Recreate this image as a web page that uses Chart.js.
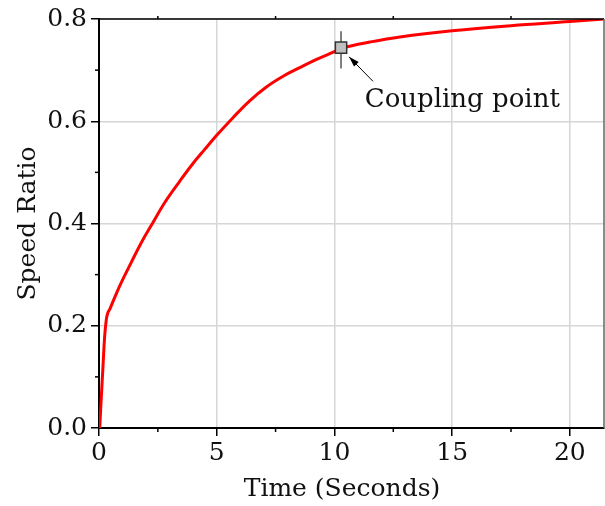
<!DOCTYPE html>
<html>
<head>
<meta charset="utf-8">
<script src="https://cdn.jsdelivr.net/npm/chart.js@4.4.1/dist/chart.umd.min.js"></script>
<style>
  html, body { margin: 0; padding: 0; background: #fff; }
  #chart-canvas { display: block; }
</style>
</head>
<body>
<canvas id="chart-canvas" width="605" height="506"></canvas>
<script>
// speed ratio curve
var timeValues = [0.03, 0.10, 0.17, 0.24, 0.31, 0.38, 0.455, 0.51, 0.70, 0.94, 1.36, 1.79,
  2.28, 2.78, 3.42, 3.95, 4.49, 4.99, 5.69, 6.40, 7.11, 7.82, 8.53, 9.24, 10.09, 10.28,
  11.5, 12.78, 15, 17.5, 20, 21.45];
var speedValues = [0, 0.062, 0.121, 0.179, 0.212, 0.226, 0.232, 0.238, 0.259, 0.284, 0.323, 0.362,
  0.401, 0.440, 0.482, 0.515, 0.545, 0.572, 0.607, 0.640, 0.667, 0.688, 0.705, 0.721, 0.738, 0.743,
  0.755, 0.765, 0.777, 0.787, 0.795, 0.800];

// coupling point and its vertical bar
var couplingTime = [10.28];
var couplingSpeed = [0.744];
var couplingBar = [0.703, 0.776];

var xTicks = [0, 5, 10, 15, 20];
var yTicks = [0, 0.2, 0.4, 0.6, 0.8];
var xLabel = "Time (Seconds)";
var yLabel = "Speed Ratio";
var noteText = "Coupling point";

var FONT = "DejaVu Serif";
Chart.defaults.font.family = FONT;
Chart.defaults.color = "#111";

// minor ticks, top/right frame, arrow note and x title
var extras = {
  id: "extras",
  afterDraw: function (chart) {
    var ctx = chart.ctx;
    var x = chart.scales.x, y = chart.scales.y;
    var area = chart.chartArea;
    ctx.save();
    ctx.strokeStyle = "#000";
    ctx.lineWidth = 1.5;
    // top and right frame
    ctx.beginPath();
    ctx.moveTo(area.left, area.top);
    ctx.lineTo(area.right, area.top);
    ctx.stroke();
    ctx.strokeStyle = "#666";
    ctx.beginPath();
    ctx.moveTo(area.right, area.top);
    ctx.lineTo(area.right, area.bottom);
    ctx.stroke();
    ctx.strokeStyle = "#000";
    // minor ticks halfway between the major ones
    for (var i = 0; i < xTicks.length; i++) {
      var px = x.getPixelForValue(xTicks[i] + 2.5);
      if (px > area.right) continue;
      ctx.beginPath();
      ctx.moveTo(px, area.bottom);
      ctx.lineTo(px, area.bottom + 4);
      ctx.moveTo(px, area.top);
      ctx.lineTo(px, area.top - 3);
      ctx.stroke();
    }
    for (var j = 0; j < yTicks.length - 1; j++) {
      var py = y.getPixelForValue(yTicks[j] + 0.1);
      ctx.beginPath();
      ctx.moveTo(area.left, py);
      ctx.lineTo(area.left - 4, py);
      ctx.stroke();
    }
    // arrow to the coupling point
    var tipX = x.getPixelForValue(10.62), tipY = y.getPixelForValue(0.726);
    var tailX = x.getPixelForValue(11.64), tailY = y.getPixelForValue(0.678);
    var ang = Math.atan2(tipY - tailY, tipX - tailX);
    ctx.lineWidth = 1;
    ctx.strokeStyle = "#000";
    ctx.beginPath();
    ctx.moveTo(tailX, tailY);
    ctx.lineTo(tipX, tipY);
    ctx.stroke();
    ctx.fillStyle = "#000";
    ctx.beginPath();
    ctx.moveTo(tipX, tipY);
    ctx.lineTo(tipX - 11 * Math.cos(ang - 0.3), tipY - 11 * Math.sin(ang - 0.3));
    ctx.lineTo(tipX - 11 * Math.cos(ang + 0.3), tipY - 11 * Math.sin(ang + 0.3));
    ctx.closePath();
    ctx.fill();
    // note text
    ctx.font = "26px '" + FONT + "'";
    ctx.fillStyle = "#111";
    ctx.textAlign = "left";
    ctx.textBaseline = "alphabetic";
    ctx.fillText(noteText, x.getPixelForValue(11.29), y.getPixelForValue(0.628));
    // x title
    ctx.font = "25px '" + FONT + "'";
    ctx.textAlign = "center";
    ctx.textBaseline = "middle";
    ctx.fillText(xLabel, 342, 489);
    ctx.restore();
  }
};

var curve = timeValues.map(function (t, i) { return { x: t, y: speedValues[i] }; });
var marker = couplingTime.map(function (t, i) { return { x: t, y: couplingSpeed[i] }; });
var bar = couplingBar.map(function (v) { return { x: couplingTime[0], y: v }; });

var ctx = document.getElementById("chart-canvas");
var chartCanvas = new Chart(ctx, {
  type: "line",
  data: {
    datasets: [
      {
        data: marker,
        showLine: false,
        pointStyle: "rect",
        pointRadius: 8,
        backgroundColor: "#c0c0c0",
        borderColor: "#333",
        borderWidth: 1.5,
        order: 0
      },
      {
        data: bar,
        borderColor: "#555",
        borderWidth: 1.5,
        pointRadius: 0,
        order: 2
      },
      {
        data: curve,
        borderColor: "#ff0000",
        borderWidth: 3,
        pointRadius: 0,
        tension: 0.4,
        order: 1
      }
    ]
  },
  options: {
    responsive: false,
    animation: false,
    // no automatic room for the point overflow, the plot runs to the edge
    layout: { autoPadding: false, padding: { top: 19, right: 1, left: 0, bottom: 0 } },
    plugins: { legend: { display: false }, tooltip: { enabled: false } },
    scales: {
      x: {
        type: "linear",
        min: 0,
        max: 21.45,
        afterFit: function (scale) {
          scale.height = 78;
          scale.paddingLeft = 0;
          scale.paddingRight = 0;
        },
        afterBuildTicks: function (scale) {
          scale.ticks = xTicks.map(function (v) { return { value: v }; });
        },
        ticks: { font: { size: 25 }, padding: 2, maxRotation: 0, color: "#111" },
        grid: { color: "#d6d6d6", lineWidth: 1.5, tickColor: "#000", tickLength: 8, tickWidth: 1.5 },
        border: { color: "#000", width: 2 }
      },
      y: {
        min: 0,
        max: 0.8,
        afterFit: function (scale) { scale.width = 99; },
        afterBuildTicks: function (scale) {
          scale.ticks = yTicks.map(function (v) { return { value: v }; });
        },
        ticks: {
          font: { size: 25 },
          padding: 4,
          color: "#111",
          callback: function (v) { return Number(v).toFixed(1); }
        },
        title: {
          display: true,
          text: yLabel,
          font: { size: 25 },
          color: "#111",
          padding: { top: 13, bottom: 0 }
        },
        grid: { color: "#d6d6d6", lineWidth: 1.5, tickColor: "#000", tickLength: 8, tickWidth: 1.5 },
        border: { color: "#000", width: 2 }
      }
    }
  },
  plugins: [extras]
});
</script>
</body>
</html>
